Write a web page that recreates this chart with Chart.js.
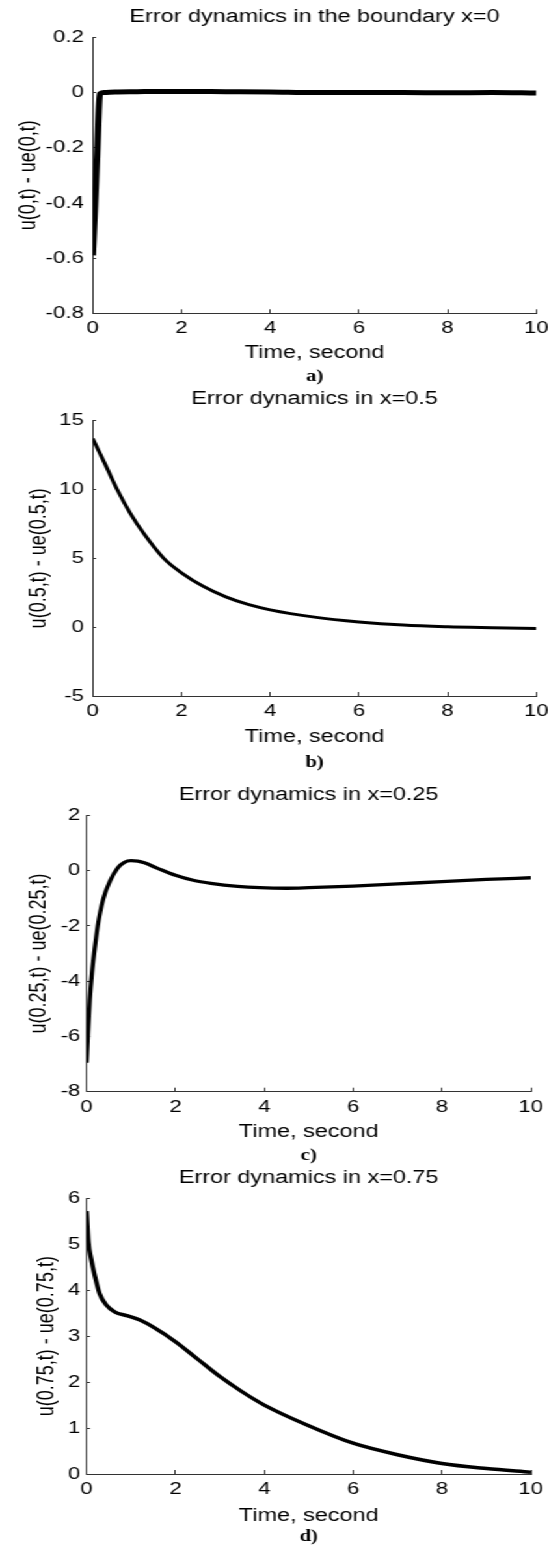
<!DOCTYPE html>
<html>
<head>
<meta charset="utf-8">
<script src="https://cdn.jsdelivr.net/npm/chart.js@4.4.1/dist/chart.umd.min.js"></script>
<style>
  body { margin: 0; background: #fff; }
  /* the original figure is stretched sideways, so the whole stack is scaled in x */
  #fig { position: relative; width: 422px; height: 1547px; transform: scaleX(1.30095); transform-origin: 0 0; }
  #fig canvas { position: absolute; left: 0; }
</style>
</head>
<body>
<div id="fig">
  <canvas id="panel-a" width="422" height="388" style="top:0px"></canvas>
  <canvas id="panel-b" width="422" height="387" style="top:388px"></canvas>
  <canvas id="panel-c" width="422" height="392" style="top:775px"></canvas>
  <canvas id="panel-d" width="422" height="380" style="top:1167px"></canvas>
</div>
<script>
// a) boundary x=0
const timeA = [0, 0.05, 0.1, 0.16, 0.25, 0.5, 1, 1.5, 2, 3, 4, 5, 6, 7, 8, 9, 10];
const errA = [-0.59, -0.41, -0.22, -0.005, 0.0, 0.002, 0.003, 0.004, 0.004, 0.003, 0.002, 0.0, 0.0, 0.0, -0.001, 0.0, -0.002];

// b) x=0.5
const timeB = [0, 0.3, 0.55, 0.85, 1.15, 1.6, 2, 2.5, 3, 3.5, 4, 5, 6, 7, 8, 9, 10];
const errB = [13.7, 11.7, 10.0, 8.25, 6.8, 5.0, 3.95, 2.95, 2.2, 1.65, 1.26, 0.73, 0.38, 0.15, 0.03, -0.04, -0.1];

// c) x=0.25
const timeC = [0, 0.03, 0.07, 0.12, 0.18, 0.25, 0.37, 0.52, 0.7, 0.85, 1.0, 1.15, 1.3, 1.6, 2.0, 2.4, 2.8, 3.4, 3.9, 4.5, 5, 6, 7, 8, 9, 10];
const errC = [-6.95, -5.9, -4.7, -3.7, -2.85, -2.0, -1.05, -0.4, 0.1, 0.3, 0.36, 0.34, 0.28, 0.08, -0.17, -0.35, -0.46, -0.57, -0.62, -0.64, -0.62, -0.56, -0.48, -0.4, -0.32, -0.26];

// d) x=0.75
const timeD = [0, 0.04, 0.1, 0.18, 0.29, 0.44, 0.63, 0.93, 1.2, 1.53, 2, 2.5, 3, 3.5, 4, 5, 6, 7, 8, 9, 10];
const errD = [5.72, 5.06, 4.69, 4.33, 3.93, 3.68, 3.53, 3.44, 3.35, 3.18, 2.88, 2.5, 2.12, 1.79, 1.5, 1.05, 0.67, 0.42, 0.23, 0.12, 0.04];

const titles = ["Error dynamics in the boundary x=0", "Error dynamics in x=0.5", "Error dynamics in x=0.25", "Error dynamics in x=0.75"];
const yLabels = ["u(0,t) - ue(0,t)", "u(0.5,t) - ue(0.5,t)", "u(0.25,t) - ue(0.25,t)", "u(0.75,t) - ue(0.75,t)"];
const subLabels = ["a)", "b)", "c)", "d)"];
const xLabel = "Time, second";
const xRange = [0, 10, 2];
const yRanges = [[-0.8, 0.2, 0.2], [-5, 15, 5], [-8, 2, 2], [0, 6, 1]];

const sans = "'Liberation Sans', Arial, Helvetica, sans-serif";
const serif = "'Liberation Serif', 'Times New Roman', serif";

function makePanel(id, time, err, k, p) {
  const yr = yRanges[k];
  new Chart(document.getElementById(id), {
    type: "line",
    data: {
      datasets: [{
        data: time.map((t, i) => ({ x: t, y: err[i] })),
        borderColor: "#000",
        borderWidth: p.lw,
        pointRadius: 0,
        fill: false,
        cubicInterpolationMode: "monotone",
      }],
    },
    options: {
      responsive: false,
      animation: false,
      devicePixelRatio: 1,
      layout: { padding: { top: p.padTop, bottom: p.padBottom, left: 0, right: p.padRight } },
      plugins: {
        legend: { display: false },
        tooltip: { enabled: false },
        title: {
          display: true, text: titles[k], fullSize: false, color: "#000",
          font: { family: sans, size: 18, weight: "normal" },
          padding: { top: 0, bottom: p.titleGap },
        },
        subtitle: {
          display: true, position: "bottom", text: subLabels[k], fullSize: false, color: "#000",
          font: { family: serif, size: 16, weight: "bold" },
          padding: { top: p.subGap, bottom: 0 },
        },
      },
      scales: {
        x: {
          type: "linear", min: xRange[0], max: xRange[1],
          ticks: { stepSize: xRange[2], color: "#000", padding: 9.2, font: { family: sans, size: 17 } },
          grid: { drawOnChartArea: false, tickLength: -4, color: "#333" },
          border: { color: "#333" },
          title: { display: true, text: xLabel, color: "#000", padding: 0, font: { family: sans, size: 18 } },
          afterFit(s) { s.height = p.xH; s.paddingLeft = 0; s.paddingRight = 0; },
        },
        y: {
          type: "linear", min: yr[0], max: yr[1],
          ticks: { stepSize: yr[2], color: "#000", padding: p.yTickPad, font: { family: sans, size: 17 } },
          grid: { drawOnChartArea: false, tickLength: -2.6, color: "#333" },
          border: { color: "#333" },
          title: { display: true, text: yLabels[k], color: "#000", padding: { top: p.yTitlePad, bottom: 0 }, font: { family: sans, size: 18 } },
          afterFit(s) { s.width = p.yW; s.paddingTop = 0; s.paddingBottom = 0; },
        },
      },
    },
  });
}

makePanel("panel-a", timeA, errA, 0, { lw: 5, padTop: 6.5, titleGap: 9.2, xH: 50.8, subGap: 3.0, padBottom: 1.7, padRight: 9.7, yW: 71.3, yTickPad: 9.5, yTitlePad: 11.6 });
makePanel("panel-b", timeB, errB, 1, { lw: 3, padTop: 0.5, titleGap: 10.6, xH: 51.5, subGap: 6.2, padBottom: 2.1, padRight: 9.7, yW: 71.3, yTickPad: 9.4, yTitlePad: 18.8 });
makePanel("panel-c", timeC, errC, 2, { lw: 3.3, padTop: 9.2, titleGap: 9.5, xH: 50.8, subGap: 3.9, padBottom: 1.4, padRight: 14, yW: 66.6, yTickPad: 7.4, yTitlePad: 18.8 });
makePanel("panel-d", timeD, errD, 3, { lw: 3.5, padTop: 0, titleGap: 9.7, xH: 52.5, subGap: 0.6, padBottom: 0.7, padRight: 14, yW: 66.6, yTickPad: 7.6, yTitlePad: 25.4 });
</script>
</body>
</html>
